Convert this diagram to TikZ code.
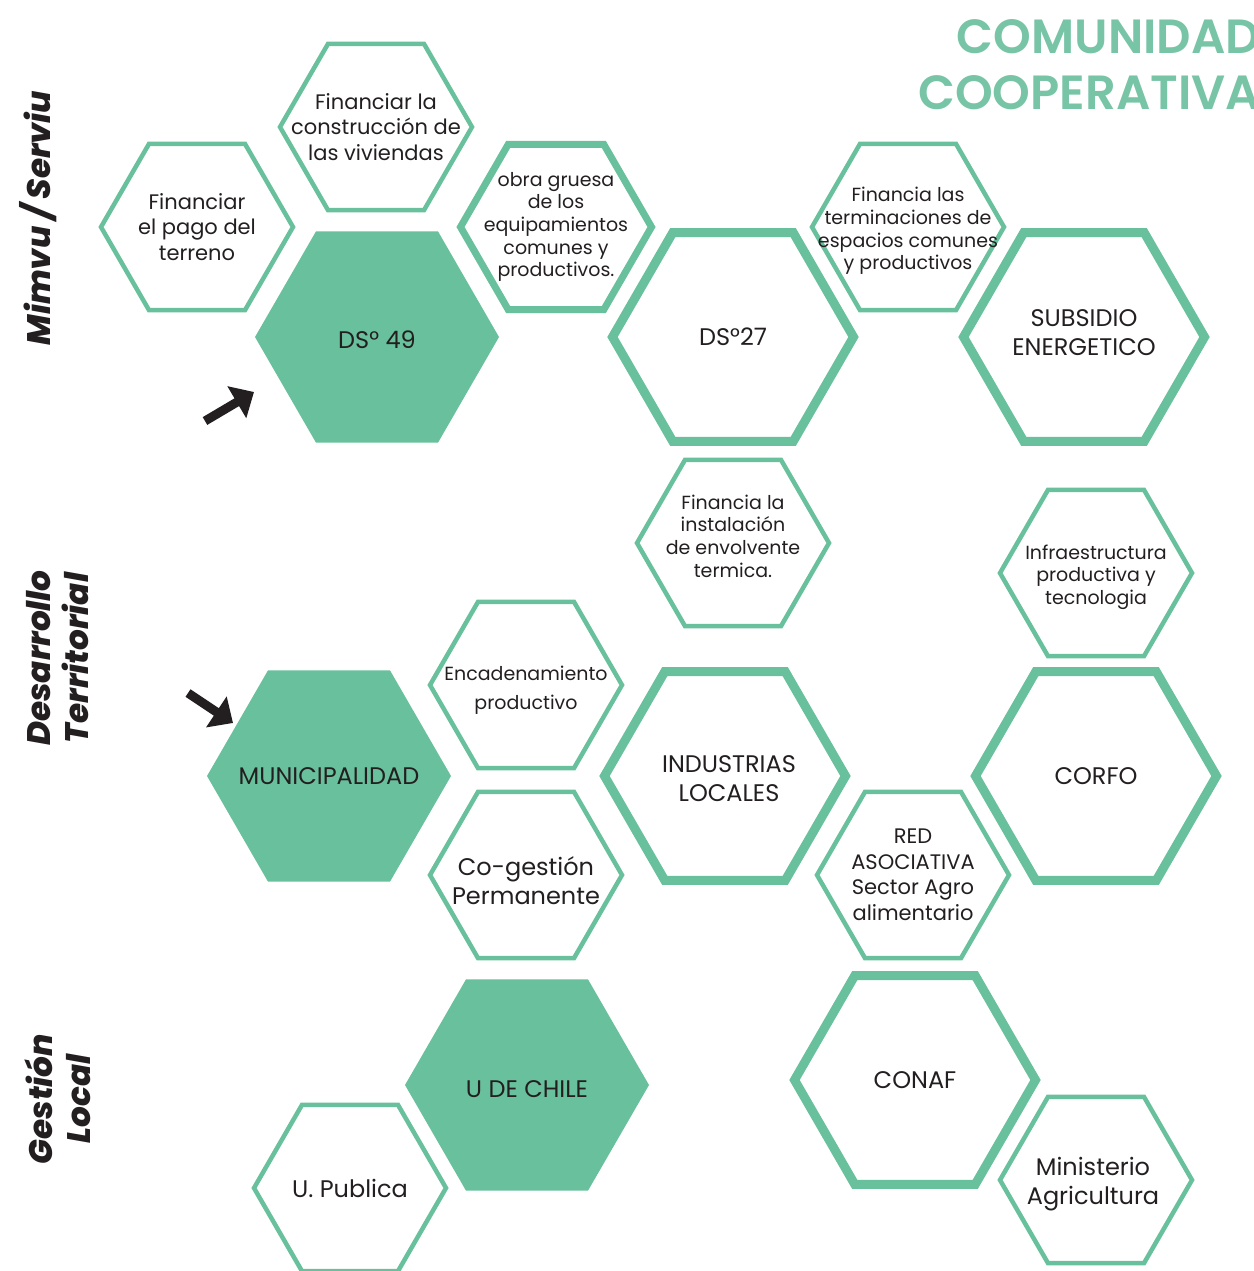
\documentclass[tikz,border=0pt]{standalone}
\usepackage{fontspec}
\setmainfont{Poppins}
\newfontfamily\sidefont{Poppins ExtraBold Italic}
\newfontfamily\titlefont{Poppins SemiBold}
\usetikzlibrary{arrows.meta, positioning, shapes.geometric}

\definecolor{hexgreen}{HTML}{69C09D}
\definecolor{titlegreen}{HTML}{78C4A6}
\definecolor{inkdark}{HTML}{231F20}

\begin{document}
\begin{tikzpicture}[
  x=0.5pt, y=-0.5pt,
  hexsmall/.style = {regular polygon, regular polygon sides=6, draw=hexgreen, line width=2.25pt, inner sep=0pt, minimum size=96pt},
  hexmid/.style   = {hexsmall, line width=3.5pt, minimum size=95.5pt},
  hexbig/.style   = {regular polygon, regular polygon sides=6, draw=hexgreen, line width=4.5pt, inner sep=0pt, minimum size=120.5pt},
  hexfill/.style  = {regular polygon, regular polygon sides=6, fill=hexgreen, inner sep=0pt, minimum size=122pt},
  txttiny/.style  = {align=center, text=inkdark, font=\fontsize{9.5}{11.3}\selectfont},
  txtsmall/.style = {align=center, text=inkdark, font=\fontsize{10.5}{12.75}\selectfont},
  txtbig/.style   = {align=center, text=inkdark, font=\fontsize{12}{14.5}\selectfont},
  side/.style     = {rotate=90, align=center, text=inkdark, font=\fontsize{16.3}{19}\sidefont},
  arrow/.style    = {line width=4.5pt, draw=inkdark, -{Triangle[length=10pt, width=18pt]}}
]
  \useasboundingbox (0,0) rectangle (1254,1271);

  % Title
  \node[anchor=north east, align=right, text=titlegreen, font=\fontsize{24}{28}\titlefont] (titulo) at (1267,12) {COMUNIDAD\\COOPERATIVA};

  % Side labels
  \node[side] (mimvu) at (38,218) {Mimvu / Serviu};
  \node[side] (desarrollo) at (58,658) {Desarrollo\\Territorial};
  \node[side] (gestion) at (58,1099) {Gestión\\Local};

  % Mimvu / Serviu
  \node[hexsmall, label={[txtsmall]center:Financiar\\el pago del\\terreno}] (pago) at (197,227) {};
  \node[hexsmall, label={[txtsmall]center:Financiar la\\construcción de\\las viviendas}] (viviendas) at (376,127) {};
  \node[hexmid, label={[txttiny]center:obra gruesa\\de los\\equipamientos\\comunes y\\productivos.}] (obra) at (556,227) {};
  \node[hexfill, label={[txtbig, yshift=-1.5pt]center:DS° 49}] (ds49) at (377,337) {};
  \node[hexbig, label={[txtbig]center:DS°27}] (ds27) at (733,337) {};
  \node[hexsmall, label={[txttiny, yshift=-2pt]center:Financia las\\terminaciones de\\espacios comunes\\y productivos}] (terminaciones) at (908,227) {};
  \node[hexbig, label={[txtbig, yshift=2pt]center:SUBSIDIO\\ENERGETICO}] (subsidio) at (1084,337) {};

  % Desarrollo Territorial
  \node[hexsmall, label={[txttiny, yshift=3.5pt]center:Financia la\\instalación\\de envolvente\\termica.}] (envolvente) at (733,543) {};
  \node[hexsmall, label={[txttiny, yshift=-2pt]center:Infraestructura\\productiva y\\tecnologia}] (infra) at (1096,573) {};
  \node[hexsmall, label={[txttiny, yshift=-2.5pt, font=\fontsize{9.5}{14.5}\selectfont]center:Encadenamiento\\productivo}] (encadenamiento) at (526,685) {};
  \node[hexfill, label={[txtbig]center:MUNICIPALIDAD}] (municipalidad) at (329,776) {};
  \node[hexsmall, label={[txtbig, yshift=-3pt]center:Co-gestión\\Permanente}] (cogestion) at (526,875) {};
  \node[hexbig, label={[txtbig, xshift=2pt, yshift=-1.5pt]center:INDUSTRIAS\\LOCALES}] (industrias) at (725,776) {};
  \node[hexsmall, label={[txtsmall]center:RED\\ASOCIATIVA\\Sector Agro\\alimentario}] (red) at (913,875) {};
  \node[hexbig, label={[txtbig]center:CORFO}] (corfo) at (1096,776) {};

  % Gestion Local
  \node[hexfill, label={[txtbig, yshift=-2pt]center:U DE CHILE}] (udechile) at (527,1085) {};
  \node[hexsmall, label={[txtbig]center:U. Publica}] (upublica) at (350,1188) {};
  \node[hexbig, label={[txtbig]center:CONAF}] (conaf) at (915,1080) {};
  \node[hexsmall, label={[txtbig, xshift=-1.5pt, yshift=-2pt]center:Ministerio\\Agricultura}] (ministerio) at (1096,1180) {};

  % Arrows
  \coordinate (tail49) at (205,421);
  \coordinate (tip49) at (254,392);
  \coordinate (tailmuni) at (188,693);
  \coordinate (tipmuni) at (233,723);
  \draw[arrow] (tail49) -- (tip49);
  \draw[arrow] (tailmuni) -- (tipmuni);

\end{tikzpicture}
\end{document}
